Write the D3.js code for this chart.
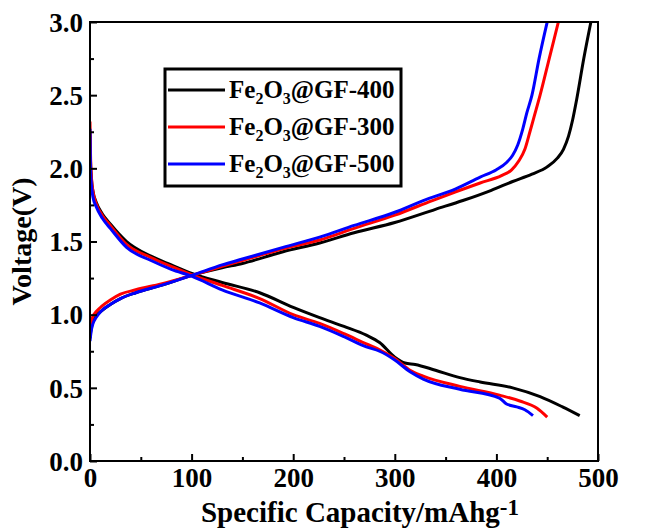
<!DOCTYPE html>
<html>
<head>
<meta charset="utf-8">
<script src="https://cdn.jsdelivr.net/npm/d3@7"></script>
<style>
  body { margin: 0; background: #fff; }
  text { font-family: "Liberation Serif", "Times New Roman", serif; font-weight: bold; }
</style>
</head>
<body>
<div id="chart"></div>
<script>
// [capacity mAh/g, voltage V]
var dis400 = [[0,2.25],[0.5,2.05],[1.5,1.92],[3,1.84],[6,1.77],[12,1.69],[20,1.62],[36,1.5],[60,1.4],[80,1.34],[101,1.28],[130,1.22],[167,1.15],[200,1.05],[226,0.98],[250,0.92],[272,0.86],[285,0.81],[300,0.71],[310,0.67],[320,0.66],[340,0.62],[364,0.57],[384,0.54],[416,0.5],[443,0.44],[465,0.37],[482,0.31]];
var dis300 = [[0,2.32],[0.5,2.1],[1.5,1.93],[3,1.84],[6,1.76],[12,1.68],[20,1.61],[36,1.48],[60,1.39],[80,1.33],[101,1.27],[130,1.2],[167,1.11],[200,1.0],[226,0.94],[250,0.87],[272,0.8],[285,0.76],[300,0.7],[315,0.62],[328,0.58],[364,0.51],[403,0.45],[423,0.41],[440,0.36],[450,0.3]];
var dis500 = [[0,2.27],[0.5,2.0],[1.5,1.88],[3,1.8],[6,1.74],[12,1.66],[20,1.59],[36,1.46],[60,1.37],[80,1.31],[101,1.26],[130,1.17],[167,1.08],[200,0.98],[226,0.92],[250,0.85],[272,0.78],[285,0.75],[300,0.69],[315,0.61],[328,0.56],[364,0.49],[403,0.43],[410,0.39],[420,0.37],[428,0.35],[436,0.31]];
var chg400 = [[0,0.84],[1,0.9],[3,0.95],[6,0.99],[12,1.03],[20,1.07],[30,1.11],[45,1.15],[70,1.2],[101,1.27],[130,1.32],[150,1.35],[190,1.43],[226,1.49],[260,1.56],[300,1.63],[340,1.72],[367,1.78],[395,1.85],[416,1.91],[435,1.96],[450,2.01],[460,2.07],[466,2.13],[471,2.22],[475,2.33],[479,2.47],[486,2.75],[493,3.0]];
var chg300 = [[0,0.88],[1,0.94],[3,0.99],[6,1.02],[12,1.06],[20,1.1],[30,1.14],[45,1.17],[70,1.21],[101,1.27],[130,1.33],[150,1.37],[190,1.45],[226,1.51],[260,1.59],[300,1.68],[337,1.78],[360,1.84],[384,1.9],[405,1.95],[415,1.99],[422,2.05],[428,2.13],[433,2.25],[437,2.35],[443,2.5],[452,2.75],[461,3.0]];
var chg500 = [[0,0.82],[1,0.88],[3,0.94],[6,0.98],[12,1.03],[20,1.07],[30,1.11],[45,1.15],[70,1.2],[101,1.27],[130,1.34],[150,1.38],[190,1.46],[226,1.53],[260,1.61],[300,1.7],[328,1.78],[360,1.86],[384,1.94],[400,1.99],[410,2.04],[416,2.09],[421,2.16],[426,2.27],[430,2.38],[435,2.5],[442,2.75],[450,3.0]];

var legendNames = ["400", "300", "500"];
var colors = ["#000000", "#ff0000", "#0000ff"];
var xTicks = [0, 100, 200, 300, 400, 500];
var yTicks = [0.0, 0.5, 1.0, 1.5, 2.0, 2.5, 3.0];

var width = 655, height = 528;
var margin = {top: 22, right: 57, bottom: 67, left: 90};
var w = width - margin.left - margin.right;
var h = height - margin.top - margin.bottom;

var svg = d3.select("#chart").append("svg")
  .attr("width", width)
  .attr("height", height)
  .style("background", "#fff");

var x = d3.scaleLinear().domain([0, 500]).range([0, w]);
var y = d3.scaleLinear().domain([0, 3]).range([h, 0]);

var g = svg.append("g")
  .attr("transform", "translate(" + margin.left + "," + margin.top + ")");

g.append("clipPath").attr("id", "clip")
  .append("rect").attr("width", w).attr("height", h);

// curves: black first, blue on top
var series = [
  {c: colors[0], d: [dis400, chg400]},
  {c: colors[1], d: [dis300, chg300]},
  {c: colors[2], d: [dis500, chg500]}
];
var line = d3.line()
  .x(function(d){ return x(d[0]); })
  .y(function(d){ return y(d[1]); })
  .curve(d3.curveMonotoneX);

var curves = g.append("g").attr("clip-path", "url(#clip)");
series.forEach(function(s){
  s.d.forEach(function(arr){
    curves.append("path")
      .datum(arr)
      .attr("d", line)
      .attr("fill", "none")
      .attr("stroke", s.c)
      .attr("stroke-width", 3)
      .attr("stroke-linejoin", "round");
  });
});

// axes, ticks inward
var xAxis = d3.axisBottom(x).tickValues(d3.range(0, 501, 50)).tickSizeInner(-7).tickSizeOuter(0)
  .tickFormat(function(d){ return xTicks.indexOf(d) >= 0 ? d : ""; });
var yAxis = d3.axisLeft(y).tickValues(d3.range(0, 3.01, 0.25)).tickSizeInner(-7).tickSizeOuter(0)
  .tickFormat(function(d){ return (Math.round(d*100) % 50 === 0) ? d3.format(".1f")(d) : ""; });

var gx = g.append("g").attr("transform", "translate(0," + h + ")").call(xAxis);
var gy = g.append("g").call(yAxis);

[gx, gy].forEach(function(ax){
  ax.select(".domain").remove();
  ax.selectAll("line").attr("stroke", "#000").attr("stroke-width", 2);
  ax.selectAll("text").attr("fill", "#000").style("font-size", "27px");
});
// minor ticks shorter
gx.selectAll(".tick").filter(function(d){ return xTicks.indexOf(d) < 0; }).select("line").attr("y2", -4);
gy.selectAll(".tick").filter(function(d){ return Math.round(d*100) % 50 !== 0; }).select("line").attr("x2", 4);
gx.selectAll("text").attr("dy", "0.9em").attr("y", 2);
gy.selectAll("text").attr("x", -7).attr("dy", "0.34em");

// frame
g.append("rect")
  .attr("width", w).attr("height", h)
  .attr("fill", "none").attr("stroke", "#000").attr("stroke-width", 2);

// axis titles
svg.append("text")
  .attr("transform", "translate(31," + (margin.top + h/2) + ") rotate(-90)")
  .attr("text-anchor", "middle")
  .style("font-size", "28px")
  .text("Voltage(V)");

var xt = svg.append("text")
  .attr("x", margin.left + w/2 + 16)
  .attr("y", 522)
  .attr("text-anchor", "middle")
  .style("font-size", "29px");
xt.append("tspan").text("Specific Capacity/mAhg");
xt.append("tspan").attr("dy", -7).style("font-size", "23px").text("-1");

// legend
var lg = svg.append("g").attr("transform", "translate(165,69)");
lg.append("rect").attr("width", 236).attr("height", 117)
  .attr("fill", "#fff").attr("stroke", "#000").attr("stroke-width", 3);
legendNames.forEach(function(n, i){
  var yy = 21 + i * 37;
  lg.append("line").attr("x1", 3).attr("x2", 60).attr("y1", yy).attr("y2", yy)
    .attr("stroke", colors[i]).attr("stroke-width", 3);
  var t = lg.append("text").attr("x", 64).attr("y", yy + 8).style("font-size", "25px");
  t.append("tspan").text("Fe");
  t.append("tspan").attr("dy", 6).style("font-size", "16px").text("2");
  t.append("tspan").attr("dy", -6).text("O");
  t.append("tspan").attr("dy", 6).style("font-size", "16px").text("3");
  t.append("tspan").attr("dy", -6).text("@GF-" + n);
});
</script>
</body>
</html>
